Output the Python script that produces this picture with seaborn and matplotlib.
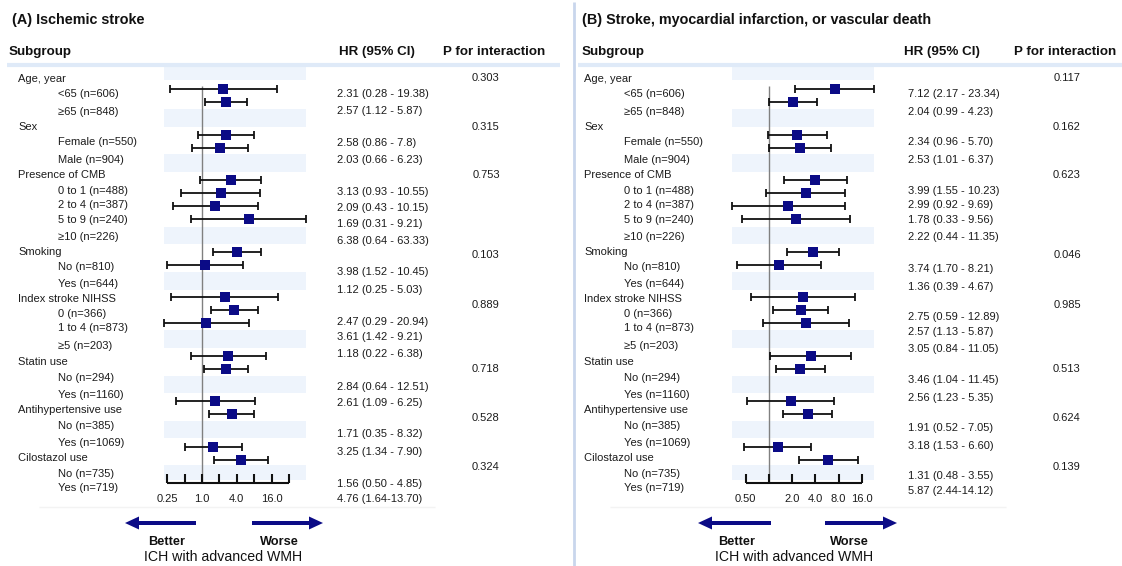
import numpy as np
import pandas as pd
import matplotlib
matplotlib.use("Agg")
import matplotlib.pyplot as plt
import seaborn as sns

# ---- data -------------------------------------------------------------
groups = ["Age, year", "Sex", "Presence of CMB", "Smoking", "Index stroke NIHSS",
          "Statin use", "Antihypertensive use", "Cilostazol use"]
items = [["<65 (n=606)", "≥65 (n=848)"],
         ["Female (n=550)", "Male (n=904)"],
         ["0 to 1 (n=488)", "2 to 4 (n=387)", "5 to 9 (n=240)", "≥10 (n=226)"],
         ["No (n=810)", "Yes (n=644)"],
         ["0 (n=366)", "1 to 4 (n=873)", "≥5 (n=203)"],
         ["No (n=294)", "Yes (n=1160)"],
         ["No (n=385)", "Yes (n=1069)"],
         ["No (n=735)", "Yes (n=719)"]]

# (A) Ischemic stroke
hr_a = [2.31, 2.57, 2.58, 2.03, 3.13, 2.09, 1.69, 6.38, 3.98, 1.12,
        2.47, 3.61, 1.18, 2.84, 2.61, 1.71, 3.25, 1.56, 4.76]
lo_a = [0.28, 1.12, 0.86, 0.66, 0.93, 0.43, 0.31, 0.64, 1.52, 0.25,
        0.29, 1.42, 0.22, 0.64, 1.09, 0.35, 1.34, 0.50, 1.64]
hi_a = [19.38, 5.87, 7.8, 6.23, 10.55, 10.15, 9.21, 63.33, 10.45, 5.03,
        20.94, 9.21, 6.38, 12.51, 6.25, 8.32, 7.90, 4.85, 13.70]
ci_a = ["2.31 (0.28 - 19.38)", "2.57 (1.12 - 5.87)", "2.58 (0.86 - 7.8)", "2.03 (0.66 - 6.23)",
        "3.13 (0.93 - 10.55)", "2.09 (0.43 - 10.15)", "1.69 (0.31 - 9.21)", "6.38 (0.64 - 63.33)",
        "3.98 (1.52 - 10.45)", "1.12 (0.25 - 5.03)", "2.47 (0.29 - 20.94)", "3.61 (1.42 - 9.21)",
        "1.18 (0.22 - 6.38)", "2.84 (0.64 - 12.51)", "2.61 (1.09 - 6.25)", "1.71 (0.35 - 8.32)",
        "3.25 (1.34 - 7.90)", "1.56 (0.50 - 4.85)", "4.76 (1.64-13.70)"]
p_a = ["0.303", "0.315", "0.753", "0.103", "0.889", "0.718", "0.528", "0.324"]

# (B) Stroke, MI, or vascular death
hr_b = [7.12, 2.04, 2.34, 2.53, 3.99, 2.99, 1.78, 2.22, 3.74, 1.36,
        2.75, 2.57, 3.05, 3.46, 2.56, 1.91, 3.18, 1.31, 5.87]
lo_b = [2.17, 0.99, 0.96, 1.01, 1.55, 0.92, 0.33, 0.44, 1.70, 0.39,
        0.59, 1.13, 0.84, 1.04, 1.23, 0.52, 1.53, 0.48, 2.44]
hi_b = [23.34, 4.23, 5.70, 6.37, 10.23, 9.69, 9.56, 11.35, 8.21, 4.67,
        12.89, 5.87, 11.05, 11.45, 5.35, 7.05, 6.60, 3.55, 14.12]
ci_b = ["7.12 (2.17 - 23.34)", "2.04 (0.99 - 4.23)", "2.34 (0.96 - 5.70)", "2.53 (1.01 - 6.37)",
        "3.99 (1.55 - 10.23)", "2.99 (0.92 - 9.69)", "1.78 (0.33 - 9.56)", "2.22 (0.44 - 11.35)",
        "3.74 (1.70 - 8.21)", "1.36 (0.39 - 4.67)", "2.75 (0.59 - 12.89)", "2.57 (1.13 - 5.87)",
        "3.05 (0.84 - 11.05)", "3.46 (1.04 - 11.45)", "2.56 (1.23 - 5.35)", "1.91 (0.52 - 7.05)",
        "3.18 (1.53 - 6.60)", "1.31 (0.48 - 3.55)", "5.87 (2.44-14.12)"]
p_b = ["0.117", "0.162", "0.623", "0.046", "0.985", "0.513", "0.624", "0.139"]

ticks_a = [0.25, 0.5, 1, 2, 4, 8, 16, 32]
ticklab_a = {0.25: "0.25", 1: "1.0", 4: "4.0", 16: "16.0"}
ticks_b = [0.5, 1, 2, 4, 8, 16]
ticklab_b = {0.5: "0.50", 2: "2.0", 4: "4.0", 8: "8.0", 16: "16.0"}

# ---- layout (pixels, y downwards) -------------------------------------
W, H = 1122, 566
label_y = [79, 94, 112, 127, 142, 160, 175, 191, 205, 220, 237, 252, 267, 284,
           299, 314, 328, 346, 362, 378, 395, 410, 426, 443, 458, 474, 488]
ci_y_a = [94, 111, 143, 160, 192, 208, 224, 241, 272, 290, 322, 337, 354,
          387, 403, 434, 452, 484, 499]
ci_y_b = [94, 112, 142, 160, 191, 205, 220, 237, 269, 287, 317, 332, 349,
          380, 398, 428, 446, 476, 491]
p_y = [78, 127, 175, 255, 305, 369, 418, 467]
bands = [(65, 80), (109, 127), (154, 172), (227, 244), (272, 290),
         (330, 348), (376, 393), (421, 438), (465, 480)]

navy = "#0b0b86"
band_col = "#eef4fc"
txt = "#1c1c1c"

sns.set_theme(style="white")
plt.rcParams["font.family"] = ["Liberation Sans", "DejaVu Sans"]

fig = plt.figure(figsize=(W / 100, H / 100), dpi=100)
bg = fig.add_axes([0, 0, 1, 1])
bg.set_xlim(0, W)
bg.set_ylim(H, 0)
bg.set_axis_off()

# divider between panels
bg.vlines(574, 2, H, color="#c9d6ec", lw=2)


def panel(x0, title, hr, lo, hi, ci, pv, ci_y, ticks, ticklab, ref_x, ppd, band_x, fx_range,
          arrow_l, arrow_r, better_x, worse_x, ich_x, cols, line_x, lab_x):
    # titles and headers
    bg.text(x0[0], 20, title, fontsize=10.4, fontweight="bold", va="center", color="#111")
    bg.text(x0[1], 52, "Subgroup", fontsize=9.6, fontweight="bold", va="center", color="#111")
    bg.text(cols[0], 52, "HR (95% CI)", fontsize=9.6, fontweight="bold", va="center", color="#111")
    bg.text(cols[1], 52, "P for interaction", fontsize=9.6, fontweight="bold", va="center",
            color="#111")
    bg.hlines(65, line_x[0], line_x[1], color="#dfeaf8", lw=3)
    for y0, y1 in bands:
        bg.axhspan(y0, y1, xmin=band_x[0] / W, xmax=band_x[1] / W, color=band_col, lw=0)
    bg.hlines(507, line_x[0] + 32, line_x[0] + 428, color="#f3f3f3", lw=1)

    # labels
    k = 0
    for g, name in enumerate(groups):
        bg.text(lab_x[0], label_y[k], name, fontsize=8, va="center", color=txt)
        bg.text(cols[2], p_y[g], pv[g], fontsize=8, va="center", ha="center", color=txt)
        k += 1
        for it in items[g]:
            bg.text(lab_x[1], label_y[k], it, fontsize=8, va="center", color=txt)
            k += 1
    for s, y in zip(ci, ci_y):
        bg.text(cols[3], y, s, fontsize=8, va="center", color=txt)

    # forest plot on its own log2 axis
    rows = []
    r = 0
    for g, its in enumerate(items):
        for it in its:
            rows.append({"group": groups[g], "label": it, "hr": hr[r], "lo": lo[r],
                         "hi": hi[r], "y": 89 + 13 * r + 19.5 * g})
            r += 1
    df = pd.DataFrame(rows)

    px0, px1 = fx_range
    fx = fig.add_axes([px0 / W, 0, (px1 - px0) / W, 1])
    fx.patch.set_alpha(0)
    fx.set_xscale("log", base=2)
    fx.set_xlim(2 ** ((px0 - ref_x) / ppd), 2 ** ((px1 - ref_x) / ppd))
    fx.set_ylim(H, 0)
    fx.set_axis_off()

    fx.vlines(1, 86, 483, color="#808080", lw=1, zorder=1)
    fx.errorbar(df["hr"], df["y"], xerr=[df["hr"] - df["lo"], df["hi"] - df["hr"]],
                fmt="none", ecolor="#111", elinewidth=1.3, capsize=3.2, capthick=1.3, zorder=2)
    sns.scatterplot(data=df, x="hr", y="y", marker="s", s=48, color=navy, edgecolor=navy,
                    linewidth=0, legend=False, ax=fx, zorder=3)
    fx.set_axis_off()

    fx.hlines(483, ticks[0], ticks[-1], color="#111", lw=1.5)
    fx.vlines(ticks, 474, 483, color="#111", lw=1.5)
    for t in ticks:
        if t in ticklab:
            fx.text(t, 499, ticklab[t], fontsize=8, ha="center", va="center", color=txt)

    # direction arrows
    for xa, xb in (arrow_l, arrow_r):
        bg.arrow(xa, 523, xb - xa, 0, width=4, head_width=13, head_length=14,
                 length_includes_head=True, color=navy, lw=0)
    bg.text(better_x, 542, "Better", fontsize=9.2, fontweight="bold", ha="center", va="center",
            color="#111")
    bg.text(worse_x, 542, "Worse", fontsize=9.2, fontweight="bold", ha="center", va="center",
            color="#111")
    bg.text(ich_x, 557, "ICH with advanced WMH", fontsize=10.2, ha="center", va="center",
            color="#111")


panel((12, 9), "(A) Ischemic stroke", hr_a, lo_a, hi_a, ci_a, p_a, ci_y_a, ticks_a, ticklab_a,
      ref_x=202, ppd=17.43, band_x=(164, 306), fx_range=(150, 320),
      arrow_l=(196, 125), arrow_r=(252, 323), better_x=167, worse_x=279, ich_x=223,
      cols=(339, 443, 486, 337), line_x=(7, 560), lab_x=(18, 58))

panel((582, 582), "(B) Stroke, myocardial infarction, or vascular death", hr_b, lo_b, hi_b,
      ci_b, p_b, ci_y_b, ticks_b, ticklab_b,
      ref_x=769, ppd=23.2, band_x=(732, 874), fx_range=(720, 890),
      arrow_l=(771, 698), arrow_r=(825, 897), better_x=737, worse_x=849, ich_x=794,
      cols=(904, 1014, 1067, 908), line_x=(578, 1122), lab_x=(584, 624))

fig.savefig("out.png", dpi=100)
